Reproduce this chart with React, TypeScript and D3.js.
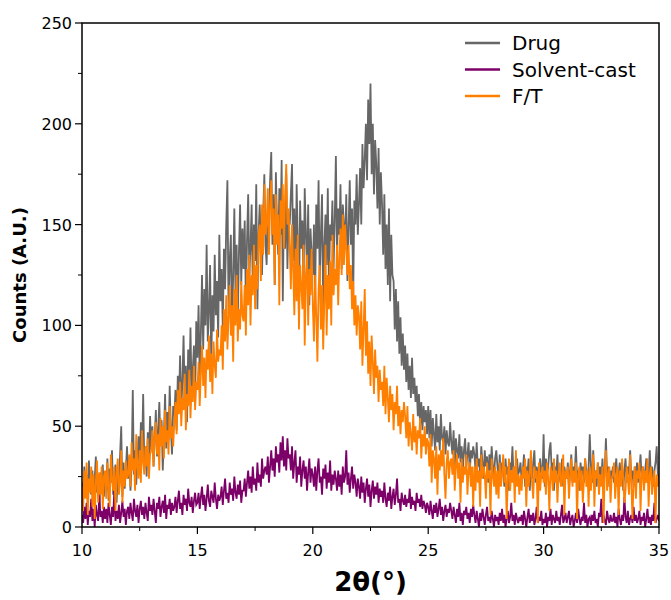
import React from "react";
import * as d3 from "d3";

const X_START = 10;
const X_STEP = 0.05;

const drug: number[] = [
  22,14,30,18,26,11,33,20,16,28,12,24,35,17,21,9,27,19,31,15,
  26,18,34,13,29,22,38,16,25,31,12,27,20,36,50,15,32,19,28,40,
  24,35,18,30,68,26,38,21,33,45,29,52,36,66,31,40,25,47,34,55,
  38,50,30,44,58,35,48,62,41,53,28,46,66,39,57,43,70,49,36,60,
  55,68,48,75,62,85,58,72,95,64,80,52,88,70,99,66,78,90,60,102,
  84,110,75,96,125,88,118,100,140,92,108,130,80,115,97,135,105,122,94,145,
  112,128,98,138,118,150,172,106,132,145,95,125,158,115,140,102,136,160,120,148,
  128,152,110,142,165,125,138,160,118,150,132,170,108,145,160,136,125,155,175,140,
  130,158,148,172,186,140,165,120,176,150,135,168,145,182,112,160,138,175,128,155,
  150,165,180,132,158,120,170,142,105,162,138,152,118,168,145,128,160,110,148,135,
  125,150,112,160,138,172,120,145,165,108,140,155,130,168,118,150,142,162,128,152,
  184,135,158,145,170,128,160,150,138,165,122,148,172,140,158,115,162,150,175,145,
  160,178,150,190,168,182,200,172,212,190,220,175,200,165,192,180,158,188,150,176,
  160,135,165,128,150,120,158,112,145,125,122,98,118,92,112,86,104,80,96,78,
  90,72,86,68,80,64,84,66,74,62,70,55,66,50,62,48,60,52,58,46,
  60,44,58,40,54,46,38,56,42,50,38,56,44,42,50,36,48,42,40,52,
  42,36,48,30,44,38,34,46,32,40,28,38,44,30,36,42,26,38,34,40,
  36,28,42,30,34,26,40,32,24,38,30,35,22,36,28,40,30,26,34,38,
  30,24,36,22,32,28,20,34,26,30,18,32,28,40,24,30,22,34,26,28,
  32,22,28,36,20,30,26,34,18,28,24,32,38,22,30,26,20,34,28,24,
  46,20,34,26,30,38,42,28,32,18,30,26,36,22,28,24,34,20,30,26,
  24,32,20,28,36,22,30,26,40,24,28,18,32,26,30,22,34,28,20,30,
  46,30,22,38,24,28,20,32,26,30,24,34,22,28,44,26,30,20,28,24,
  30,22,28,34,20,26,32,24,30,18,28,34,22,30,26,38,24,28,20,30,
  26,32,22,28,36,24,30,20,28,34,22,26,38,24,30,20,28,32,40,26,
  24,
];

const solventCast: number[] = [
  6,2,10,4,12,1,8,5,14,3,9,0,11,6,3,16,5,8,2,10,
  4,9,2,12,6,1,10,5,18,3,8,4,11,2,7,13,5,9,1,8,
  10,4,12,7,3,14,8,5,11,2,9,13,6,10,4,12,7,3,15,8,
  11,6,14,8,2,12,9,15,5,10,13,7,16,4,11,9,14,6,12,8,
  10,15,7,13,18,9,12,6,16,11,14,8,19,12,10,15,7,13,17,11,
  12,17,9,15,20,11,16,8,14,21,13,10,18,15,12,22,14,9,16,13,
  15,20,11,18,24,14,17,12,22,16,19,13,25,17,14,21,16,23,12,18,
  18,24,15,22,28,19,25,17,30,21,24,18,32,22,26,20,34,24,28,30,
  26,35,22,30,38,28,34,25,40,32,36,27,42,33,45,30,38,28,44,34,
  36,28,40,24,32,38,22,30,26,35,20,28,33,24,30,18,27,34,22,29,
  26,20,30,18,28,34,22,25,16,29,24,31,19,27,22,33,18,26,21,28,
  24,18,28,20,26,16,30,22,25,38,21,27,17,24,30,19,26,22,15,24,
  20,14,25,17,22,12,19,24,15,21,10,18,23,14,20,16,22,12,19,15,
  18,12,22,14,10,17,13,20,9,15,19,11,16,24,12,14,8,17,13,11,
  16,10,14,12,19,9,15,11,13,8,17,12,14,10,16,9,13,11,7,12,
  10,6,13,8,4,11,7,12,5,9,14,6,10,3,8,11,5,9,7,12,
  8,4,10,6,2,9,5,12,3,7,1,8,6,10,4,7,2,9,5,11,
  6,2,8,4,0,7,3,9,5,1,6,10,3,5,2,8,4,0,6,3,
  5,1,7,3,9,2,6,0,4,8,2,5,12,3,6,1,7,4,2,5,
  3,6,1,8,4,0,5,9,2,6,3,7,1,4,10,2,5,3,8,1,
  4,2,7,0,5,3,9,1,6,4,2,8,3,5,1,6,11,2,4,7,
  2,5,8,1,4,6,0,3,7,2,9,4,1,5,3,12,2,6,0,4,
  5,1,6,3,8,2,4,0,7,5,14,2,6,3,1,8,4,2,6,3,
  3,7,2,5,0,9,4,1,6,3,15,5,2,8,1,4,6,2,10,3,
  6,2,4,8,1,5,3,7,0,4,9,2,5,1,6,3,12,2,4,6,
  3,
];

const freezeThaw: number[] = [
  20,8,28,14,32,6,24,17,30,10,26,4,22,33,12,27,16,30,9,25,
  28,14,32,20,10,36,24,18,30,8,26,34,16,22,38,12,28,20,33,24,
  26,36,20,42,28,34,18,46,30,24,38,22,48,32,26,40,30,44,24,36,
  38,48,30,44,52,36,46,28,54,40,50,34,58,42,48,36,60,44,50,40,
  52,62,46,68,56,72,50,64,58,76,48,66,60,78,54,70,62,80,58,72,
  68,82,60,76,90,70,84,64,88,78,95,72,86,66,92,80,74,98,82,88,
  85,100,78,108,92,115,88,104,120,95,110,82,118,100,125,92,108,98,122,105,
  102,120,95,128,110,135,100,125,115,140,108,130,118,145,150,122,160,135,170,145,
  150,168,135,160,172,145,158,120,165,140,155,110,162,148,170,138,165,180,150,158,
  140,118,150,128,105,138,112,145,98,130,120,108,140,90,125,135,100,128,115,138,
  110,92,125,105,82,118,130,98,120,88,112,140,95,125,108,132,100,145,115,128,
  120,140,110,135,148,125,155,130,150,138,125,140,118,130,108,122,100,115,95,110,
  105,88,112,80,98,118,85,102,76,92,70,95,82,66,88,74,80,62,78,68,
  72,60,80,56,74,64,52,70,58,66,48,62,56,70,50,60,46,58,52,62,
  55,44,60,40,52,46,38,56,42,50,36,48,44,54,34,46,40,50,36,44,
  42,30,46,22,38,34,24,40,16,36,28,38,30,44,26,14,32,38,24,32,
  34,26,38,18,30,36,24,32,12,34,22,30,26,36,16,28,32,20,30,10,
  30,18,34,22,28,10,36,24,30,26,14,32,24,28,6,34,26,20,30,16,
  28,14,32,20,26,36,22,30,4,24,34,18,28,22,30,12,38,20,26,16,
  26,18,30,24,34,10,28,20,26,38,22,14,30,24,28,2,32,18,26,30,
  22,28,16,32,24,8,30,26,18,34,22,28,12,26,32,20,24,36,6,28,
  24,30,14,26,34,20,28,22,32,4,26,30,18,28,12,24,34,20,28,10,
  30,18,26,36,10,28,24,32,16,26,20,30,2,28,38,18,26,30,12,24,
  26,32,14,24,30,6,28,20,34,24,12,18,30,24,16,36,22,4,22,30,
  14,28,24,32,8,26,30,18,28,22,34,10,26,30,16,24,28,2,26,20,
  24,
];

const seriesNames = ["Drug", "Solvent-cast", "F/T"];
const seriesColors = ["#666666", "#7d0068", "#ff7f00"];
const seriesData = [drug, solventCast, freezeThaw];

const xMajorTicks = [10, 15, 20, 25, 30, 35];
const xMinorTicks = [12.5, 17.5, 22.5, 27.5, 32.5];
const yMajorTicks = [0, 50, 100, 150, 200, 250];
const yMinorTicks = [25, 75, 125, 175, 225];

export default function App() {
  const left = 82, right = 659, top = 23, bottom = 527;
  const x = d3.scaleLinear().domain([10, 35]).range([left, right]);
  const y = d3.scaleLinear().domain([0, 250]).range([bottom, top]);
  const line = d3
    .line<number>()
    .x((_, i) => x(X_START + i * X_STEP))
    .y((d) => y(d));
  const font = "DejaVu Sans, sans-serif";

  return (
    <svg
      width={671}
      height={600}
      style={{ position: "absolute", left: 0, top: 0, background: "#fff" }}
      fontFamily={font}
    >
      <defs>
        <clipPath id="plotclip">
          <rect x={left} y={top} width={right - left} height={bottom - top} />
        </clipPath>
      </defs>
      <g clipPath="url(#plotclip)">
        {seriesData.map((s, i) => (
          <path
            key={seriesNames[i]}
            d={line(s) || ""}
            fill="none"
            stroke={seriesColors[i]}
            strokeWidth={1.8}
            strokeLinejoin="miter"
          />
        ))}
      </g>
      <rect
        x={left}
        y={top}
        width={right - left}
        height={bottom - top}
        fill="none"
        stroke="#000"
        strokeWidth={1.5}
      />
      {xMajorTicks.map((t) => (
        <g key={"xM" + t}>
          <line x1={x(t)} x2={x(t)} y1={bottom} y2={bottom + 7} stroke="#000" strokeWidth={1.2} />
          <text x={x(t)} y={556} textAnchor="middle" fontSize={16}>
            {t}
          </text>
        </g>
      ))}
      {xMinorTicks.map((t) => (
        <line key={"xm" + t} x1={x(t)} x2={x(t)} y1={bottom} y2={bottom + 4} stroke="#000" strokeWidth={1} />
      ))}
      {yMajorTicks.map((t) => (
        <g key={"yM" + t}>
          <line x1={left - 7} x2={left} y1={y(t)} y2={y(t)} stroke="#000" strokeWidth={1.2} />
          <text x={left - 10} y={y(t) + 6} textAnchor="end" fontSize={16}>
            {t}
          </text>
        </g>
      ))}
      {yMinorTicks.map((t) => (
        <line key={"ym" + t} x1={left - 4} x2={left} y1={y(t)} y2={y(t)} stroke="#000" strokeWidth={1} />
      ))}
      <text
        transform={`translate(26, ${(top + bottom) / 2}) rotate(-90)`}
        textAnchor="middle"
        fontSize={18}
        fontWeight="bold"
      >
        Counts (A.U.)
      </text>
      <text x={(left + right) / 2} y={591} textAnchor="middle" fontSize={26} fontWeight="bold">
        2θ(°)
      </text>
      {seriesNames.map((n, i) => (
        <g key={"leg" + n}>
          <line
            x1={465}
            x2={500}
            y1={43 + i * 26.5}
            y2={43 + i * 26.5}
            stroke={seriesColors[i]}
            strokeWidth={2.5}
          />
          <text x={512} y={43 + i * 26.5 + 7} fontSize={20}>
            {n}
          </text>
        </g>
      ))}
    </svg>
  );
}
